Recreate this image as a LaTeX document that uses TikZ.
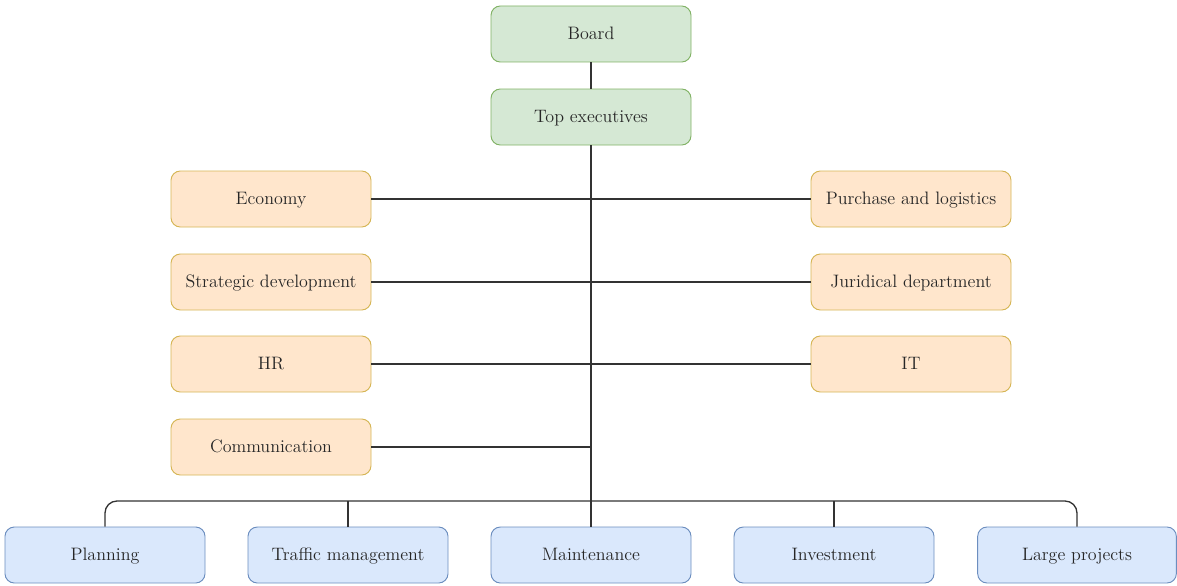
\documentclass[tikz,border=0pt]{standalone}
\usetikzlibrary{positioning, calc}

\definecolor{greenfill}{HTML}{D5E8D4}
\definecolor{greenline}{HTML}{82B366}
\definecolor{orangefill}{HTML}{FFE6CC}
\definecolor{orangeline}{HTML}{D6B656}
\definecolor{bluefill}{HTML}{DAE8FC}
\definecolor{blueline}{HTML}{6C8EBF}
\definecolor{textgray}{HTML}{262626}

\tikzset{
  orgbox/.style={draw, rectangle, rounded corners=7pt, line width=0.7pt,
    minimum width=150pt, minimum height=42pt, inner sep=2pt,
    text height=2.2ex, text depth=0.2ex,
    text=textgray, font=\fontsize{13.5}{16}\selectfont},
  greenbox/.style={orgbox, fill=greenfill, draw=greenline},
  orangebox/.style={orgbox, fill=orangefill, draw=orangeline},
  bluebox/.style={orgbox, fill=bluefill, draw=blueline},
  link/.style={draw=black!80, line width=1pt}
}

\begin{document}
\begin{tikzpicture}[x=0.75pt, y=-0.75pt]
  \useasboundingbox (0,0) rectangle (1177,585);

  % top
  \node[greenbox] (board) at (591,34) {Board};
  \node[greenbox] (topexec) at (591,117) {Top executives};

  % staff units
  \node[orangebox] (economy) at (271,199) {Economy};
  \node[orangebox] (strategy) at (271,282) {Strategic development};
  \node[orangebox] (hr) at (271,364) {HR};
  \node[orangebox] (comm) at (271,447) {Communication};
  \node[orangebox] (purchase) at (911,199) {Purchase and logistics};
  \node[orangebox] (juridical) at (911,282) {Juridical department};
  \node[orangebox] (it) at (911,364) {IT};

  % divisions
  \node[bluebox] (planning) at (105,555) {Planning};
  \node[bluebox] (traffic) at (348,555) {Traffic management};
  \node[bluebox] (maint) at (591,555) {Maintenance};
  \node[bluebox] (invest) at (834,555) {Investment};
  \node[bluebox, minimum width=149pt] (large) at (1077,555) {Large projects};

  \coordinate (bus) at (591,501);

  % connectors
  \draw[link] (board) -- (topexec);
  \draw[link] (topexec) -- (maint);
  \draw[link] (economy) -- (purchase);
  \draw[link] (strategy) -- (juridical);
  \draw[link] (hr) -- (it);
  \draw[link] (comm) -- (comm -| topexec);
  \draw[link, rounded corners=9pt] (planning.north) |- (bus) -| (large.north);
  \draw[link] (traffic.north) -- (traffic.north |- bus);
  \draw[link] (invest.north) -- (invest.north |- bus);
\end{tikzpicture}
\end{document}
